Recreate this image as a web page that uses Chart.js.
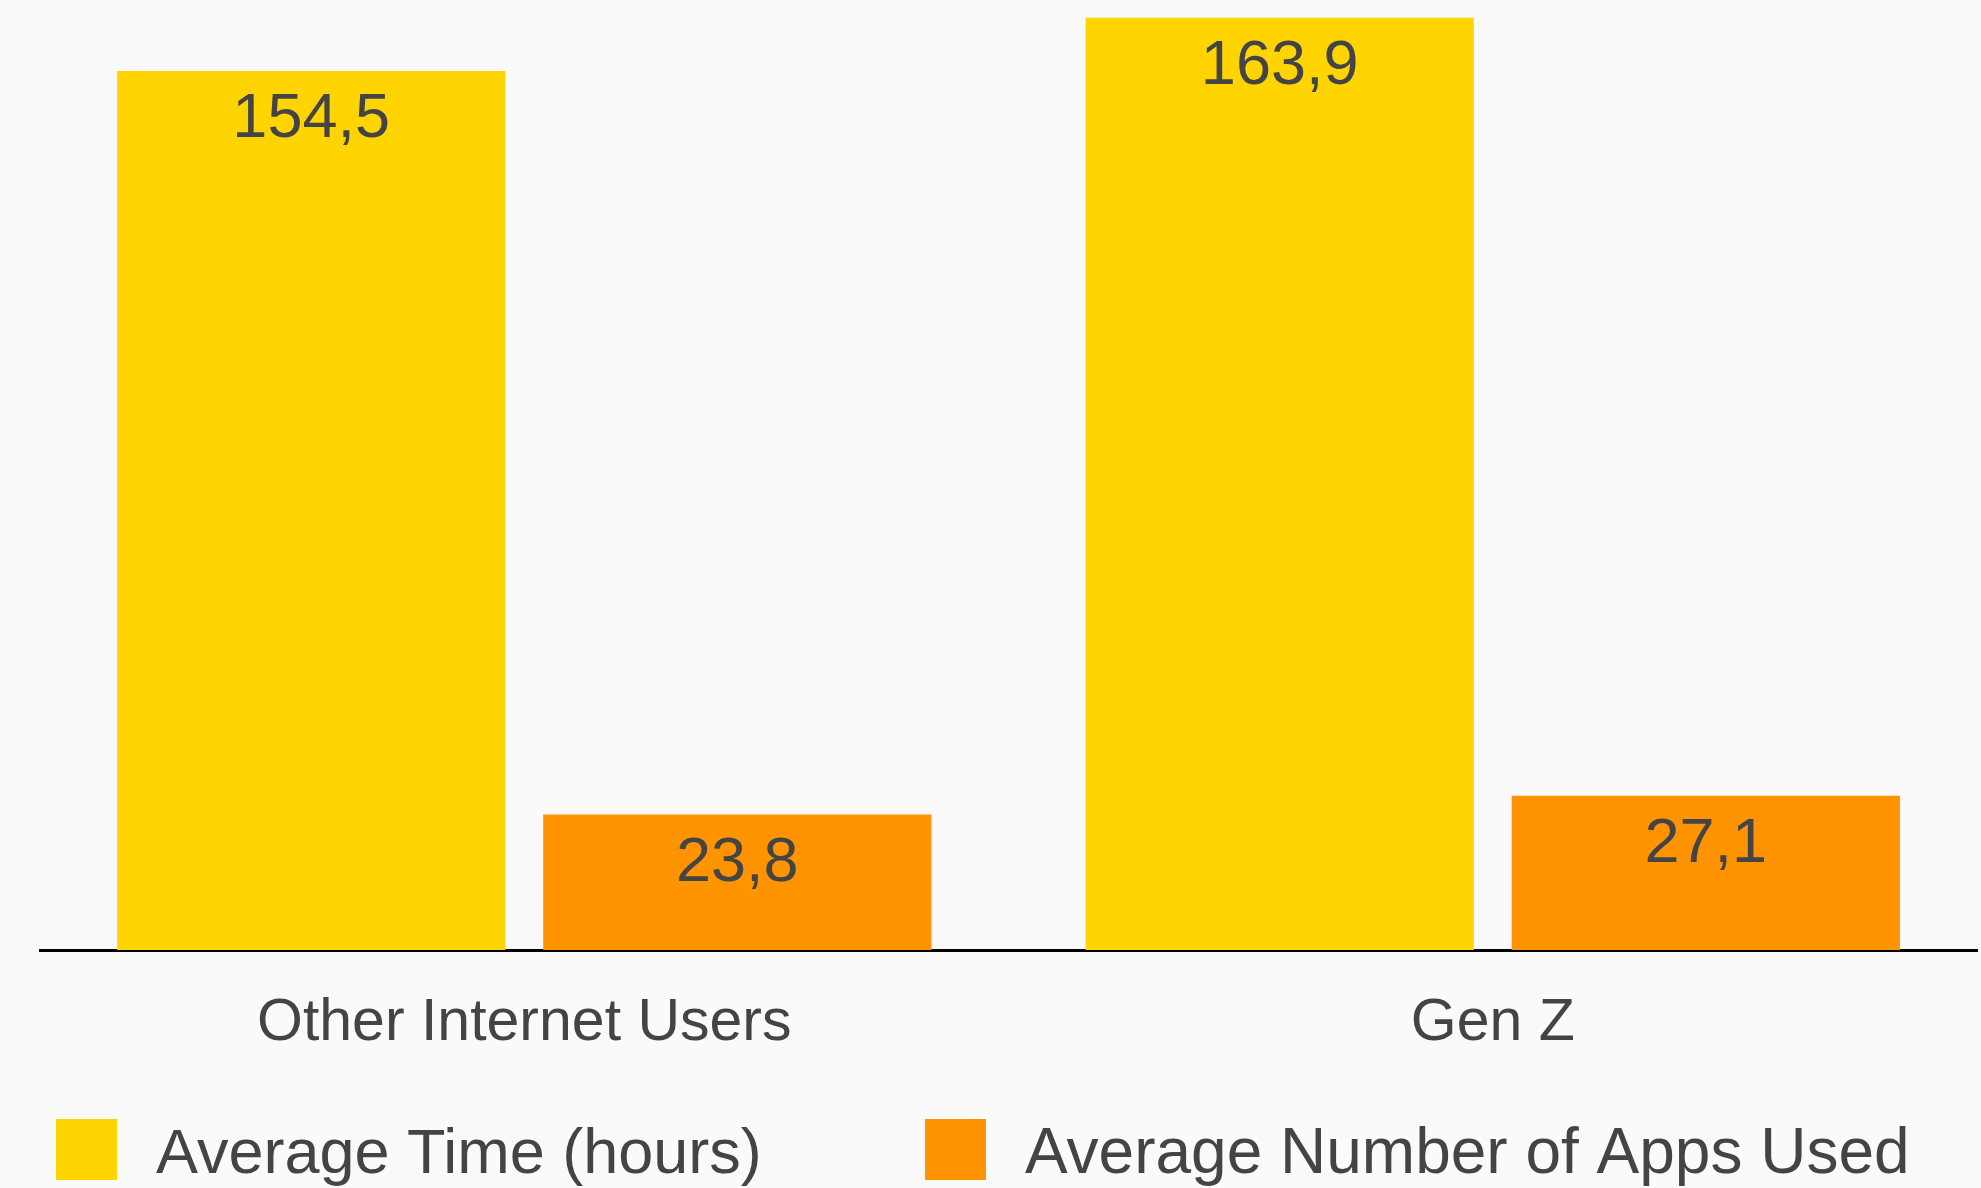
<!DOCTYPE html>
<html>
<head>
<meta charset="utf-8">
<script src="https://cdn.jsdelivr.net/npm/chart.js@4.4.1/dist/chart.umd.min.js"></script>
<style>
  html, body { margin: 0; padding: 0; background: #fafafa; }
  #wrap { width: 1981px; height: 1188px; position: relative; }
</style>
</head>
<body>
<div id="wrap"><canvas id="appsChart"></canvas></div>
<script>
// data
const categories = ['Other Internet Users', 'Gen Z'];
const seriesLabels = ['Average Time (hours)', 'Average Number of Apps Used'];
const avgTimeHours = [154.5, 163.9];
const avgAppsUsed = [23.8, 27.1];

const seriesColors = ['#ffd400', '#ff9300'];
const textColor = '#444444';
const fontFamily = '"Liberation Sans", Arial, Helvetica, sans-serif';

function formatValue(v) {
  return v.toFixed(1).replace('.', ',');
}

// value labels inside top of bars
const valueLabels = {
  id: 'valueLabels',
  afterDatasetsDraw(chart) {
    const ctx = chart.ctx;
    ctx.save();
    ctx.font = '63px ' + fontFamily;
    ctx.fillStyle = textColor;
    ctx.textAlign = 'center';
    ctx.textBaseline = 'alphabetic';
    chart.data.datasets.forEach((ds, i) => {
      const meta = chart.getDatasetMeta(i);
      meta.data.forEach((bar, j) => {
        ctx.fillText(formatValue(ds.data[j]), bar.x, bar.y + 66);
      });
    });
    ctx.restore();
  }
};

// legend drawn by hand so both items fit on one row
const bottomLegend = {
  id: 'bottomLegend',
  afterDraw(chart) {
    const ctx = chart.ctx;
    const boxX = [56, 925];
    ctx.save();
    ctx.textBaseline = 'alphabetic';
    ctx.textAlign = 'left';
    chart.data.datasets.forEach((ds, i) => {
      ctx.fillStyle = ds.backgroundColor;
      ctx.fillRect(boxX[i], 1119, 61, 61);
      ctx.fillStyle = textColor;
      ctx.font = (i === 0 ? 63 : 64) + 'px ' + fontFamily;
      ctx.fillText(ds.label, boxX[i] + 100, 1173);
    });
    ctx.restore();
  }
};

const ctx = document.getElementById('appsChart');
new Chart(ctx, {
  type: 'bar',
  data: {
    labels: categories,
    datasets: [
      {
        label: seriesLabels[0],
        data: avgTimeHours,
        backgroundColor: seriesColors[0],
        categoryPercentage: 0.88,
        barPercentage: 0.911
      },
      {
        label: seriesLabels[1],
        data: avgAppsUsed,
        backgroundColor: seriesColors[1],
        categoryPercentage: 0.88,
        barPercentage: 0.911
      }
    ]
  },
  options: {
    responsive: true,
    maintainAspectRatio: false,
    animation: false,
    layout: { padding: { top: 0, left: 40, right: 4, bottom: 0 } },
    plugins: {
      legend: { display: false },
      tooltip: { enabled: false }
    },
    scales: {
      x: {
        grid: { display: false, drawTicks: false },
        border: { display: true, color: '#000000', width: 3 },
        ticks: {
          color: textColor,
          padding: 38,
          font: { family: fontFamily, size: 59 }
        },
        afterFit(axis) { axis.height = 238; }
      },
      y: {
        display: false,
        min: 0,
        max: 167
      }
    }
  },
  plugins: [valueLabels, bottomLegend]
});
</script>
</body>
</html>
